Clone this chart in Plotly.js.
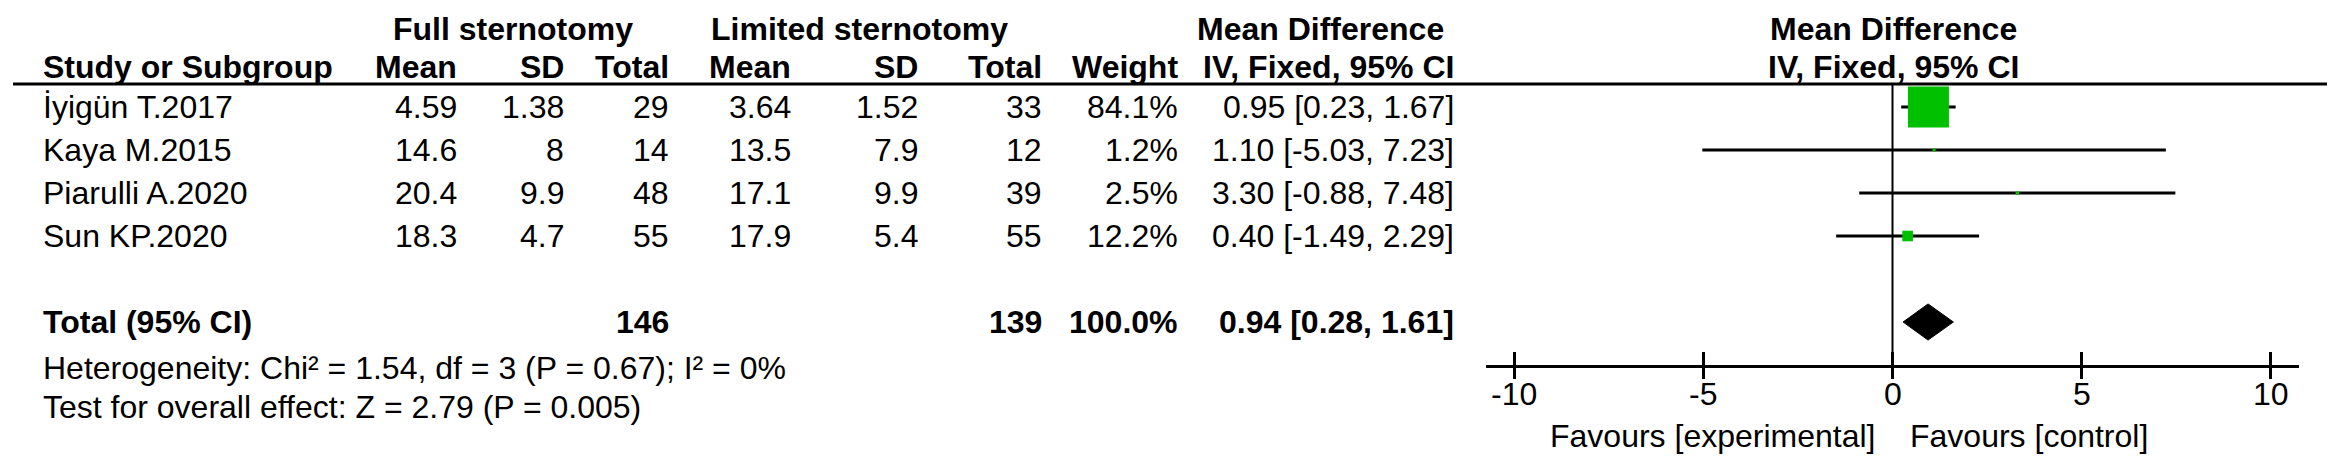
<!DOCTYPE html>
<html>
<head>
<meta charset="utf-8">
<script src="https://cdn.plot.ly/plotly-3.0.1.min.js"></script>
<style>html,body{margin:0;padding:0;background:#fff;}#chart{width:2343px;height:469px;}</style>
</head>
<body>
<div id="chart"></div>
<script>
// ---------- data ----------
const studies   = ['İyigün T.2017', 'Kaya M.2015', 'Piarulli A.2020', 'Sun KP.2020'];
const fullMean  = [4.59, 14.6, 20.4, 18.3];
const fullSD    = [1.38, 8, 9.9, 4.7];
const fullN     = [29, 14, 48, 55];
const limMean   = [3.64, 13.5, 17.1, 17.9];
const limSD     = [1.52, 7.9, 9.9, 5.4];
const limN      = [33, 12, 39, 55];
const weights   = [84.1, 1.2, 2.5, 12.2];
const md        = [0.95, 1.10, 3.30, 0.40];
const ciLow     = [0.23, -5.03, -0.88, -1.49];
const ciHigh    = [1.67, 7.23, 7.48, 2.29];
const totalFullN = 146;
const totalLimN  = 139;
const totalWeight = 100.0;
const totalMD    = 0.94;
const totalLow   = 0.28;
const totalHigh  = 1.61;
const heterogeneityText = 'Heterogeneity: Chi² = 1.54, df = 3 (P = 0.67); I² = 0%';
const overallText = 'Test for overall effect: Z = 2.79 (P = 0.005)';
const tickVals  = [-10, -5, 0, 5, 10];
const tickText  = ['-10', '-5', '0', '5', '10'];
const favLeft   = 'Favours [experimental]';
const favRight  = 'Favours [control]';

// ---------- layout helpers ----------
const W = 2343, H = 469;
const FONT = 'Liberation Sans, Arial, sans-serif';
const FS = 32;
const rowTop = 107, rowStep = 43;           // pixel centre of first study row and spacing
const totalRow = studies.length + 2;         // blank row then total
const yTopVal = 1 - rowTop / rowStep;
const yBotVal = 1 + (H - rowTop) / rowStep;
const px = v => v / W;
const py = v => 1 - v / H;

function ann(text, xp, yp, anchor, bold, yref) {
  return {
    text: bold ? '<b>' + text + '</b>' : text,
    xref: 'paper', yref: yref || 'paper',
    x: px(xp), y: yref === 'y' ? yp : py(yp),
    xanchor: anchor, yanchor: 'middle', showarrow: false,
    font: {family: FONT, size: FS, color: '#000'}
  };
}

const colRight = {fm: 459, fsd: 566, fn: 671, lm: 793, lsd: 920, ln: 1044, w: 1180, ci: 1456};
const colStudy = 41;
const fmtCI = (m, l, h) => m.toFixed(2) + ' [' + l.toFixed(2) + ', ' + h.toFixed(2) + ']';

const annotations = [];
// headers
annotations.push(ann('Full sternotomy', 513, 29, 'center', true));
annotations.push(ann('Limited sternotomy', 859, 29, 'center', true));
annotations.push(ann('Mean Difference', 1320, 29, 'center', true));
annotations.push(ann('Mean Difference', 1893, 29, 'center', true));
annotations.push(ann('Study or Subgroup', colStudy, 67, 'left', true));
annotations.push(ann('Mean', colRight.fm, 67, 'right', true));
annotations.push(ann('SD', colRight.fsd, 67, 'right', true));
annotations.push(ann('Total', colRight.fn, 67, 'right', true));
annotations.push(ann('Mean', colRight.lm, 67, 'right', true));
annotations.push(ann('SD', colRight.lsd, 67, 'right', true));
annotations.push(ann('Total', colRight.ln, 67, 'right', true));
annotations.push(ann('Weight', colRight.w, 67, 'right', true));
annotations.push(ann('IV, Fixed, 95% CI', colRight.ci, 67, 'right', true));
annotations.push(ann('IV, Fixed, 95% CI', 1893, 67, 'center', true));

// study rows
studies.forEach((s, i) => {
  const r = i + 1;
  annotations.push(ann(s, colStudy, r, 'left', false, 'y'));
  annotations.push(ann(String(fullMean[i]), colRight.fm, r, 'right', false, 'y'));
  annotations.push(ann(String(fullSD[i]), colRight.fsd, r, 'right', false, 'y'));
  annotations.push(ann(String(fullN[i]), colRight.fn, r, 'right', false, 'y'));
  annotations.push(ann(String(limMean[i]), colRight.lm, r, 'right', false, 'y'));
  annotations.push(ann(String(limSD[i]), colRight.lsd, r, 'right', false, 'y'));
  annotations.push(ann(String(limN[i]), colRight.ln, r, 'right', false, 'y'));
  annotations.push(ann(weights[i].toFixed(1) + '%', colRight.w, r, 'right', false, 'y'));
  annotations.push(ann(fmtCI(md[i], ciLow[i], ciHigh[i]), colRight.ci, r, 'right', false, 'y'));
});

// total row
annotations.push(ann('Total (95% CI)', colStudy, totalRow, 'left', true, 'y'));
annotations.push(ann(String(totalFullN), colRight.fn, totalRow, 'right', true, 'y'));
annotations.push(ann(String(totalLimN), colRight.ln, totalRow, 'right', true, 'y'));
annotations.push(ann(totalWeight.toFixed(1) + '%', colRight.w, totalRow, 'right', true, 'y'));
annotations.push(ann(fmtCI(totalMD, totalLow, totalHigh), colRight.ci, totalRow, 'right', true, 'y'));
annotations.push(ann(heterogeneityText, colStudy, 368, 'left', false));
annotations.push(ann(overallText, colStudy, 407, 'left', false));

// axis tick labels, placed on the axis scale
tickVals.forEach((v, i) => {
  annotations.push({
    text: tickText[i], xref: 'x', yref: 'paper', x: v, y: py(394),
    xanchor: 'center', yanchor: 'middle', showarrow: false,
    font: {family: FONT, size: FS, color: '#000'}
  });
});

// favours labels
annotations.push(ann(favLeft, 1877, 436, 'right', false));
annotations.push(ann(favRight, 1908, 436, 'left', false));

// ---------- traces ----------
const wMax = Math.max(...weights);
const sizes = weights.map(w => Math.max(3, 41 * Math.pow(w / wMax, 0.7)));
const rows = studies.map((s, i) => i + 1);

const studyTrace = {
  type: 'scatter', mode: 'markers',
  x: md, y: rows,
  marker: {symbol: 'square', size: sizes, color: '#00C000', opacity: 1, line: {width: 0}},
  error_x: {
    type: 'data', symmetric: false,
    array: md.map((m, i) => ciHigh[i] - m),
    arrayminus: md.map((m, i) => m - ciLow[i]),
    color: '#000', thickness: 3, width: 0
  },
  hoverinfo: 'skip', showlegend: false, cliponaxis: false
};

const dh = 0.42;
const diamond = {
  type: 'scatter', mode: 'lines',
  x: [totalLow, totalMD, totalHigh, totalMD, totalLow],
  y: [totalRow, totalRow - dh, totalRow, totalRow + dh, totalRow],
  fill: 'toself', fillcolor: '#000', line: {color: '#000', width: 1},
  hoverinfo: 'skip', showlegend: false
};

const tickHelper = {
  type: 'scatter', mode: 'markers', x: tickVals, y: tickVals.map(() => null),
  xaxis: 'x2', yaxis: 'y', hoverinfo: 'skip', showlegend: false
};

const axisPos = py(366);
const dom = [px(1486), px(2299)];
const xr = [-10.75, 10.75];

const layout = {
  width: W, height: H,
  margin: {l: 0, r: 0, t: 0, b: 0, pad: 0},
  paper_bgcolor: '#fff', plot_bgcolor: 'rgba(0,0,0,0)',
  showlegend: false,
  xaxis: {
    domain: dom, range: xr, anchor: 'free', position: axisPos,
    showgrid: false, zeroline: false, showline: true, linecolor: '#000', linewidth: 3,
    ticks: 'inside', ticklen: 13, tickwidth: 3, tickcolor: '#000',
    tickmode: 'array', tickvals: tickVals, ticktext: tickText, showticklabels: false,
    fixedrange: true
  },
  xaxis2: {
    domain: dom, range: xr, anchor: 'free', position: axisPos, overlaying: 'x',
    showgrid: false, zeroline: false, showline: false,
    ticks: 'outside', ticklen: 12, tickwidth: 3, tickcolor: '#000',
    tickmode: 'array', tickvals: tickVals, showticklabels: false, fixedrange: true
  },
  yaxis: {
    domain: [0, 1], range: [yBotVal, yTopVal], visible: false, fixedrange: true
  },
  shapes: [
    {type: 'line', xref: 'paper', yref: 'paper', x0: px(13), x1: px(2327), y0: py(84), y1: py(84),
     line: {color: '#000', width: 3}},
    {type: 'line', xref: 'x', yref: 'paper', x0: 0, x1: 0, y0: py(366), y1: py(84),
     line: {color: '#000', width: 2}, layer: 'below'}
  ],
  annotations: annotations
};

Plotly.newPlot('chart', [studyTrace, diamond, tickHelper], layout, {staticPlot: true, displayModeBar: false});
</script>
</body>
</html>
